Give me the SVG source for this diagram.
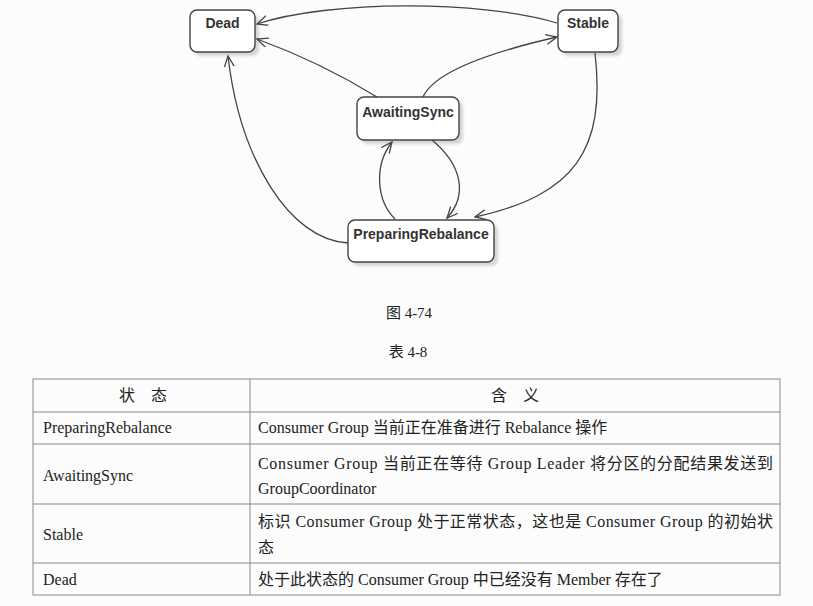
<svg xmlns="http://www.w3.org/2000/svg" width="813" height="606" viewBox="0 0 813 606">
<style>
.node rect.box{fill:#fff;stroke:#444;stroke-width:1.4}
.node rect.sh{fill:#d4d4d4}
.node text{font-family:"Liberation Sans",Arial,sans-serif;font-weight:bold;font-size:14px;fill:#333;text-anchor:middle}
.edge{fill:none;stroke:#444;stroke-width:1.3;marker-end:url(#arr)}
.t{font-family:"Liberation Serif","Noto Sans CJK SC",serif;font-size:16px;fill:#222}
.cap{font-family:"Liberation Serif","Noto Sans CJK SC",serif;font-size:15px;fill:#222;text-anchor:middle}
.grid{stroke:#8a8a8a;stroke-width:1;fill:none}
</style>
<defs>
<marker id="arr" markerUnits="userSpaceOnUse" markerWidth="14" markerHeight="12" refX="11" refY="5" orient="auto">
<path d="M0,0 L11,5 L0,10" fill="none" stroke="#444" stroke-width="1.3"/>
</marker>
<filter id="blur" x="-20%" y="-20%" width="140%" height="140%"><feGaussianBlur stdDeviation="1.5"/></filter>
</defs>
<rect width="813" height="606" fill="#fcfcfc"/>

<g id="node-dead" class="node">
<rect class="sh" x="194" y="14" width="65" height="42" rx="7" filter="url(#blur)"/>
<rect class="box" x="190" y="10" width="65" height="42" rx="7"/>
<text x="222.5" y="28">Dead</text>
</g>
<g id="node-stable" class="node">
<rect class="sh" x="562" y="14" width="60" height="42" rx="7" filter="url(#blur)"/>
<rect class="box" x="558" y="10" width="60" height="42" rx="7"/>
<text x="588" y="28">Stable</text>
</g>
<g id="node-awaitingsync" class="node">
<rect class="sh" x="361" y="101" width="102" height="43" rx="7" filter="url(#blur)"/>
<rect class="box" x="357" y="97" width="102" height="43" rx="7"/>
<text x="408" y="117">AwaitingSync</text>
</g>
<g id="node-preparingrebalance" class="node">
<rect class="sh" x="352" y="224" width="146" height="42" rx="7" filter="url(#blur)"/>
<rect class="box" x="348" y="220" width="146" height="42" rx="7"/>
<text x="421" y="239">PreparingRebalance</text>
</g>

<g id="connectors">
<path class="edge" d="M557,23 C480,0 330,0 257,24"/>
<path class="edge" d="M377,97 Q320,62 257,39"/>
<path class="edge" d="M423,97 C435,70 500,50 557,37"/>
<path class="edge" d="M348,243 C290,240 240,160 228,56"/>
<path class="edge" d="M395,219 C376,200 374,165 392,142"/>
<path class="edge" d="M432,140 C462,165 468,195 447,218"/>
<path class="edge" d="M595,53 C606,150 575,195 475,217"/>
</g>

<g id="captions">
<text class="cap" x="409" y="318">图 4-74</text>
<text class="cap" x="408" y="357">表 4-8</text>
</g>

<g id="table">
<rect class="grid" x="33" y="379" width="747" height="216"/>
<line class="grid" x1="250" y1="379" x2="250" y2="595"/>
<line class="grid" x1="33" y1="412" x2="780" y2="412"/>
<line class="grid" x1="33" y1="444" x2="780" y2="444"/>
<line class="grid" x1="33" y1="504" x2="780" y2="504"/>
<line class="grid" x1="33" y1="563" x2="780" y2="563"/>
<text class="t" x="143" y="401" text-anchor="middle">状　态</text>
<text class="t" x="515" y="401" text-anchor="middle">含　义</text>
<text class="t" x="43" y="433">PreparingRebalance</text>
<text class="t" x="258" y="433">Consumer Group 当前正在准备进行 Rebalance 操作</text>
<text class="t" x="43" y="481">AwaitingSync</text>
<text class="t" x="258" y="469" textLength="515" lengthAdjust="spacing">Consumer Group 当前正在等待 Group Leader 将分区的分配结果发送到</text>
<text class="t" x="258" y="494">GroupCoordinator</text>
<text class="t" x="43" y="540">Stable</text>
<text class="t" x="258" y="527" textLength="515" lengthAdjust="spacing">标识 Consumer Group 处于正常状态，这也是 Consumer Group 的初始状</text>
<text class="t" x="258" y="553">态</text>
<text class="t" x="43" y="585">Dead</text>
<text class="t" x="258" y="585">处于此状态的 Consumer Group 中已经没有 Member 存在了</text>
</g>
</svg>
